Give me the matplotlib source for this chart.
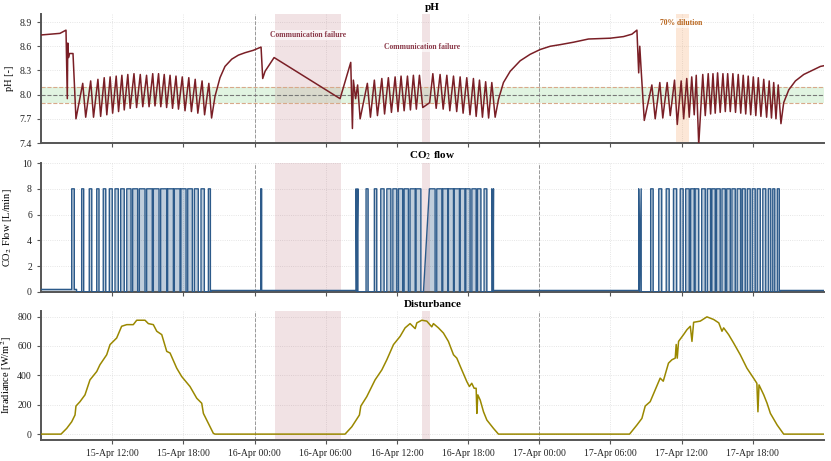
import numpy as np
import pandas as pd
import matplotlib
matplotlib.use("Agg")
import matplotlib.pyplot as plt
import matplotlib.dates as mdates

plt.rcParams["font.family"] = ["Liberation Serif", "DejaVu Serif"]
plt.rcParams["mathtext.fontset"] = "stix"

t0 = pd.Timestamp("2024-04-15 06:00")
t_end = pd.Timestamp("2024-04-18 00:00")

# ---- pH [-] : hours after t0 / value ----
ph_h = [0.00, 1.60, 2.11, 2.22, 2.26, 2.32, 2.40, 2.70, 2.95,
        3.52, 3.77, 4.19, 4.43, 4.80, 5.03, 5.33, 5.55, 5.83, 6.04, 6.34, 6.54,
        6.82, 7.02, 7.32, 7.52, 7.84, 8.06, 8.37, 8.58, 8.90, 9.11, 9.42, 9.61,
        9.91, 10.10, 10.39, 10.59, 10.88, 11.09, 11.38, 11.59, 11.91, 12.14,
        12.46, 12.68, 13.00, 13.22, 13.58, 13.79, 14.15, 14.38,
        14.67, 15.09, 15.51, 16.08, 16.64, 17.20, 17.90, 18.55, 18.69, 18.89, 19.65,
        25.21, 26.11, 26.25, 26.33, 26.52, 26.69, 26.90,
        27.51, 27.77, 28.10, 28.36, 28.73, 28.96, 29.28, 29.54, 29.85, 30.09,
        30.35, 30.61, 30.89, 31.14, 31.39, 31.64, 31.90, 32.18, 32.76,
        33.03, 33.31, 33.64, 33.90, 34.21, 34.46, 34.77, 35.04, 35.33, 35.58,
        35.89, 36.16, 36.45, 36.68, 36.96, 37.21, 37.48, 37.73, 38.00, 38.28,
        38.56, 38.98, 39.55, 40.39, 41.23, 42.08, 42.92, 43.76, 44.88, 46.15,
        47.98, 49.10, 49.81, 50.23, 50.38, 50.47, 50.59, 50.85,
        51.49, 51.77, 52.16, 52.41, 52.78, 53.04, 53.40, 53.63, 53.96, 54.17,
        54.43, 54.64, 54.85, 55.06, 55.23, 55.44, 55.78, 55.99, 56.24, 56.44,
        56.64, 56.83, 57.03, 57.25, 57.48, 57.68, 57.88, 58.10, 58.32, 58.54,
        58.77, 58.98, 59.19, 59.40, 59.61, 59.82, 60.04, 60.25, 60.46, 60.68,
        60.92, 61.16, 61.38, 61.57, 61.76, 61.95, 62.14, 62.37,
        62.60, 63.03, 63.59, 64.29, 64.99, 65.70, 66.04]
ph_v = [8.74, 8.76, 8.80, 7.95, 8.64, 8.46, 8.51, 8.51, 7.70,
        8.14, 7.72, 8.17, 7.72, 8.19, 7.73, 8.21, 7.75, 8.22, 7.77, 8.23, 7.79,
        8.24, 7.81, 8.25, 7.83, 8.26, 7.84, 8.25, 7.85, 8.24, 7.85, 8.26, 7.86,
        8.26, 7.85, 8.25, 7.84, 8.24, 7.83, 8.23, 7.82, 8.22, 7.80,
        8.21, 7.79, 8.19, 7.77, 8.17, 7.75, 8.14, 7.71,
        7.98, 8.21, 8.35, 8.44, 8.49, 8.52, 8.55, 8.59, 8.20, 8.29, 8.46,
        7.95, 8.40, 7.58, 8.18, 7.95, 8.12, 7.70,
        8.14, 7.72, 8.18, 7.74, 8.20, 7.76, 8.21, 7.78, 8.22, 7.79,
        8.23, 7.80, 8.23, 7.81, 8.24, 7.82, 8.24, 7.84, 7.90,
        8.26, 7.83, 8.25, 7.82, 8.24, 7.80, 8.23, 7.79, 8.22, 7.77,
        8.21, 7.75, 8.20, 7.73, 8.18, 7.72, 8.16, 7.71, 8.15, 7.72,
        7.94, 8.15, 8.29, 8.42, 8.50, 8.56, 8.60, 8.62, 8.65, 8.69,
        8.70, 8.72, 8.75, 8.80, 8.27, 8.60, 8.30, 7.68,
        8.12, 7.70, 8.15, 7.71, 8.15, 7.74, 8.18, 7.63, 8.17, 7.70,
        8.20, 7.72, 8.22, 7.75, 8.24, 7.38, 8.25, 7.74, 8.26, 7.76,
        8.26, 7.77, 8.27, 7.78, 8.26, 7.79, 8.26, 7.79, 8.26, 7.78,
        8.25, 7.77, 8.24, 7.76, 8.23, 7.75, 8.22, 7.74, 8.21, 7.73,
        8.19, 7.72, 8.17, 7.71, 8.15, 7.70, 8.12, 7.64,
        7.90, 8.06, 8.17, 8.25, 8.30, 8.35, 8.36]

# ---- CO2 valve pulses (hours after t0) ----
co2_on = [2.59, 3.43, 4.07, 4.70, 5.25, 5.76, 6.24, 6.72, 7.23, 7.73, 8.29,
          8.91, 9.47, 10.09, 10.68, 11.24, 11.80, 12.37, 12.93, 13.49, 14.11,
          18.52,
          26.56, 27.40, 28.10, 28.64, 29.15, 29.66, 30.13, 30.61, 31.11, 31.62,
          32.74, 33.36, 33.87, 34.34, 34.82, 35.33, 35.81, 36.32, 36.79, 37.35, 38.00,
          50.38, 51.39, 52.07, 52.70, 53.31, 53.88, 54.34, 54.76, 55.14, 55.69,
          56.16, 56.55, 56.94, 57.40, 57.80, 58.24, 58.68, 59.11, 59.53, 59.95,
          60.37, 60.84, 61.30, 61.68, 62.06]
co2_off = [2.81, 3.60, 4.28, 4.89, 5.46, 6.01, 6.52, 7.02, 7.59, 8.15, 8.77,
           9.38, 9.95, 10.60, 11.16, 11.72, 12.23, 12.76, 13.26, 13.77, 14.28,
           18.60,
           26.71, 27.57, 28.30, 28.92, 29.49, 29.99, 30.49, 30.97, 31.54, 32.02,
           33.22, 33.79, 34.29, 34.77, 35.27, 35.73, 36.17, 36.68, 37.08, 37.58, 38.14,
           50.59, 51.60, 52.32, 52.95, 53.58, 54.13, 54.64, 55.06, 55.44, 55.99,
           56.45, 56.83, 57.25, 57.68, 58.10, 58.52, 58.98, 59.36, 59.78, 60.20,
           60.63, 61.09, 61.51, 61.85, 62.23]
co2_level = 8.0
co2_ramp = {32.74: 32.24}  # line drawn across the communication gap
co2_base_h = [0.0, 3.0, 14.35, 26.6, 38.1, 50.45, 62.3]
co2_base_v = [0.2, 0.02, 0.12, 0.02, 0.12, 0.02, 0.12]

# ---- irradiance [W/m2] ----
irr_h = [0.00, 1.69, 2.17, 2.59, 2.87, 2.95, 3.29, 3.71, 4.13, 4.70, 4.97, 5.54,
         5.82, 6.38, 6.80, 7.23, 7.78, 8.07, 8.77, 9.05, 9.47, 9.76, 10.18, 10.60,
         10.88, 11.44, 11.86, 12.56, 13.13, 13.55, 13.69, 14.11, 14.53, 14.67,
         25.63, 26.20, 26.84, 26.96, 27.46, 28.16, 28.73, 29.15, 29.71, 30.27,
         30.69, 31.11, 31.54, 31.68, 32.10, 32.52, 32.94, 33.08, 33.50, 33.92,
         34.34, 34.77, 35.05, 35.47, 35.89, 36.11, 36.31, 36.51, 36.68, 36.74,
         36.82, 37.02, 37.30, 37.58, 38.14, 38.56,
         49.61, 50.23, 50.65, 50.93, 51.35, 51.77, 52.19, 52.45, 52.89, 53.18,
         53.46, 53.54, 53.63, 53.74, 54.16, 54.45, 54.73, 54.87, 55.01, 55.57,
         56.13, 56.70, 57.13, 57.40, 57.54, 57.96, 58.38, 58.94, 59.50, 60.06,
         60.34, 60.43, 60.52, 60.92, 61.20, 61.48, 62.05, 62.60, 66.04]
irr_v = [0, 0, 39, 84, 130, 191, 221, 267, 369, 426, 472, 540,
         609, 654, 734, 745, 745, 775, 775, 752, 745, 700, 677, 563,
         552, 449, 392, 324, 244, 210, 141, 73, 5, 0,
         0, 50, 130, 191, 255, 369, 437, 506, 609, 665,
         723, 752, 718, 757, 775, 769, 730, 752, 723, 688,
         631, 540, 517, 437, 358, 324, 346, 312, 312, 141,
         267, 232, 152, 96, 39, 0,
         0, 62, 107, 191, 221, 301, 381, 360, 483, 506,
         517, 610, 517, 631, 677, 711, 734, 631, 761, 769,
         798, 780, 757, 700, 723, 677, 620, 540, 449, 381,
         346, 152, 335, 267, 210, 141, 62, 0, 0]

# shaded events (hours after t0)
comm_fail = [(19.73, 25.30), (32.13, 32.80)]
dilution = (53.50, 54.60)

ph_col = "#7a1f26"
co2_col = "#2c5a8a"
irr_col = "#9a8800"


def to_time(hours):
    return t0 + pd.to_timedelta(np.asarray(hours, dtype=float), unit="h")


def base_at(h):
    i = np.searchsorted(co2_base_h, h, side="right") - 1
    return co2_base_v[i]


# build the CO2 step line
pts = [(0.0, co2_base_v[0])]
for b_h, v_prev, v_new in zip(co2_base_h[1:], co2_base_v[:-1], co2_base_v[1:]):
    pts += [(b_h, v_prev), (b_h, v_new)]
for on, off in zip(co2_on, co2_off):
    start = co2_ramp.get(on, on)
    pts += [(start, base_at(start)), (on, co2_level), (off, co2_level), (off, base_at(off))]
pts.append((66.04, co2_base_v[-1]))
pts.sort(key=lambda p: p[0])
co2_h = [p[0] for p in pts]
co2_v = [p[1] for p in pts]

fig = plt.figure(figsize=(8.31, 4.61), dpi=100)
ax_ph = fig.add_axes([0.0493, 0.6898, 0.9423, 0.2798])
ax_co2 = fig.add_axes([0.0493, 0.3666, 0.9423, 0.2798], sharex=ax_ph)
ax_irr = fig.add_axes([0.0493, 0.0456, 0.9423, 0.2798], sharex=ax_ph)
axes = [ax_ph, ax_co2, ax_irr]

# pH panel
ax_ph.axhspan(7.9, 8.1, color="#c9ecc9", alpha=0.55, lw=0)
ax_ph.axhline(7.9, color="#d8a98a", ls="--", lw=0.8)
ax_ph.axhline(8.1, color="#d8a98a", ls="--", lw=0.8)
ax_ph.axhline(8.0, color="#777777", ls="--", lw=0.8)
ax_ph.plot(to_time(ph_h), ph_v, color=ph_col, lw=1.1, zorder=4)
ax_ph.set_ylim(7.4, 9.0)
ax_ph.set_yticks([7.4, 7.7, 8.0, 8.3, 8.6, 8.9])
ax_ph.yaxis.set_major_formatter(plt.FormatStrFormatter("%.1f"))
ax_ph.set_ylabel("pH [-]")
ax_ph.set_title("pH", fontweight="bold", fontsize=8, pad=3)

# CO2 panel
co2_t = to_time(co2_h)
ax_co2.fill_between(co2_t, co2_v, color=co2_col, alpha=0.3, lw=0)
ax_co2.plot(co2_t, co2_v, color=co2_col, lw=1.0, zorder=4)
ax_co2.set_ylim(0, 10)
ax_co2.set_yticks([0, 2, 4, 6, 8, 10])
ax_co2.set_ylabel("CO$_2$ Flow [L/min]")
ax_co2.set_title("CO$_2$ flow", fontweight="bold", fontsize=8, pad=3)

# irradiance panel
ax_irr.plot(to_time(irr_h), irr_v, color=irr_col, lw=1.1, zorder=4)
ax_irr.set_yticks([0, 200, 400, 600, 800])
ax_irr.set_ylabel("Irradiance [W/m$^2$]")
ax_irr.set_title("Disturbance", fontweight="bold", fontsize=8, pad=3)

ticks = pd.date_range("2024-04-15 12:00", "2024-04-17 18:00", freq="6h")
for ax in axes:
    for a, b in comm_fail:
        ax.axvspan(to_time([a])[0], to_time([b])[0], color="#b5606e", alpha=0.18, lw=0)
    for d in ["2024-04-16 00:00", "2024-04-17 00:00"]:
        ax.axvline(pd.Timestamp(d), color="#999999", ls="--", lw=0.7, zorder=1)
    ax.grid(True, color="#dddddd", ls=":", lw=0.6)
    ax.set_axisbelow(True)
    ax.spines["top"].set_visible(False)
    ax.spines["right"].set_visible(False)
    for s in ["left", "bottom"]:
        ax.spines[s].set_color("#555555")
        ax.spines[s].set_linewidth(1.4)
    ax.tick_params(labelsize=7, color="#555555", length=3, labelcolor="#222222")
    ax.yaxis.label.set_size(7.5)
    ax.yaxis.set_label_coords(-0.034, 0.5)
    ax.set_xticks(ticks)
    ax.set_xlim(t0, t_end)

ax_ph.axvspan(to_time([dilution[0]])[0], to_time([dilution[1]])[0], color="#f4a261", alpha=0.25, lw=0)

ax_irr.xaxis.set_major_formatter(mdates.DateFormatter("%d-%b %H:%M"))
plt.setp(ax_ph.get_xticklabels(), visible=False)
plt.setp(ax_co2.get_xticklabels(), visible=False)

box = dict(facecolor="white", alpha=0.6, edgecolor="none", pad=1)
ax_ph.text(to_time([22.5])[0], 8.74, "Communication failure", fontsize=5.5, fontweight="bold",
           color="#8b3a4a", ha="center", va="center", bbox=box, zorder=5)
ax_ph.text(to_time([32.13])[0], 8.59, "Communication failure", fontsize=5.5, fontweight="bold",
           color="#8b3a4a", ha="center", va="center", bbox=box, zorder=5)
ax_ph.text(to_time([53.96])[0], 8.89, "70% dilution", fontsize=5.5, fontweight="bold",
           color="#b8651d", ha="center", va="center", bbox=box, zorder=5)

fig.savefig("out.png", dpi=100)
